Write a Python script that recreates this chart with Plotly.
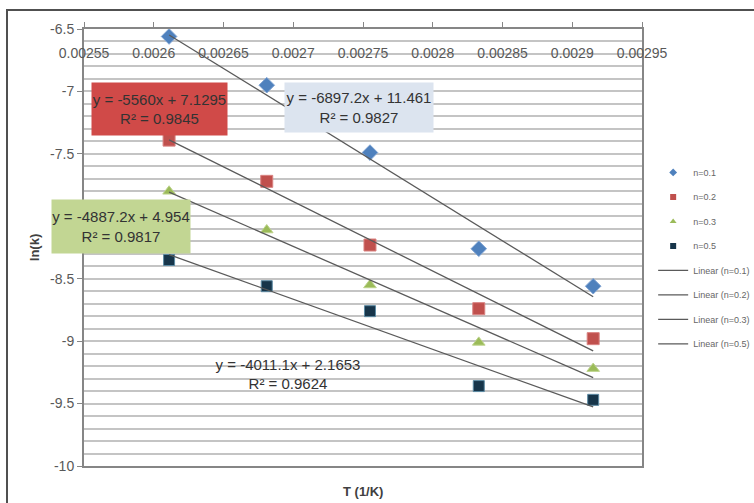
import plotly.graph_objects as go

# ---------------- data ----------------
inv_T = [0.002611, 0.002681, 0.002755, 0.002833, 0.002915]
series_names = ["n=0.1", "n=0.2", "n=0.3", "n=0.5"]
ln_k_n01 = [-6.56, -6.95, -7.49, -8.26, -8.56]
ln_k_n02 = [-7.39, -7.72, -8.23, -8.74, -8.98]
ln_k_n03 = [-7.80, -8.11, -8.55, -9.01, -9.22]
ln_k_n05 = [-8.35, -8.56, -8.76, -9.36, -9.47]
fit_slopes = [-6897.2, -5560.0, -4887.2, -4011.1]
fit_intercepts = [11.461, 7.1295, 4.954, 2.1653]
fit_labels = [
    "y = -6897.2x + 11.461<br>R² = 0.9827",
    "y = -5560x + 7.1295<br>R² = 0.9845",
    "y = -4887.2x + 4.954<br>R² = 0.9817",
    "y = -4011.1x + 2.1653<br>R² = 0.9624",
]
x_ticks = [0.00255, 0.0026, 0.00265, 0.0027, 0.00275, 0.0028, 0.00285, 0.0029, 0.00295]
x_tick_text = ["0.00255", "0.0026", "0.00265", "0.0027", "0.00275", "0.0028", "0.00285", "0.0029", "0.00295"]
y_ticks = [-6.5, -7, -7.5, -8, -8.5, -9, -9.5, -10]
y_tick_text = ["-6.5", "-7", "-7.5", "-8", "-8.5", "-9", "-9.5", "-10"]

series_values = [ln_k_n01, ln_k_n02, ln_k_n03, ln_k_n05]
colors = ["#4F81BD", "#C0504D", "#9BBB59", "#17354A"]
outline = ["#7FA3D2", "#D98280", "#BCD38A", "#5C8AA3"]
symbols = ["diamond", "square", "triangle-up", "square"]
sizes = [12, 12, 11, 11]

fig = go.Figure()

# plotted markers (legend handled by small-marker legend entries)
for name, ys, c, oc, s, sz in zip(series_names, series_values, colors, outline, symbols, sizes):
    fig.add_trace(go.Scatter(
        x=inv_T, y=ys, mode="markers", name=name, showlegend=False,
        marker=dict(symbol=s, size=sz, color=c, line=dict(color=oc, width=1)),
    ))

# trend lines
for name, m, b in zip(series_names, fit_slopes, fit_intercepts):
    xs = [inv_T[0], inv_T[-1]]
    fig.add_trace(go.Scatter(
        x=xs, y=[m * xv + b for xv in xs], mode="lines", showlegend=False,
        name="Linear (" + name + ")", line=dict(color="#5A5A5A", width=1.3),
    ))

# legend entries (on the label axis x2)
for i, (name, c, s) in enumerate(zip(series_names, colors, symbols)):
    fig.add_trace(go.Scatter(
        x=[None], y=[None], mode="markers", name=name, legendgroup="g%d" % i,
        xaxis="x2", marker=dict(symbol=s, size=6, color=c),
    ))
for i, name in enumerate(series_names):
    fig.add_trace(go.Scatter(
        x=[None], y=[None], mode="lines", name="Linear (" + name + ")",
        legendgroup="l%d" % i, xaxis="x2", line=dict(color="#5A5A5A", width=1.3),
    ))

# trendline label boxes
label_pos = [(0.0027471, -7.129), (0.0026041, -7.141), (0.0025765, -8.082), (0.0026962, -9.263)]
label_bg = ["#DCE4EF", "#D04A48", "#C2D693", "rgba(0,0,0,0)"]
label_w = [148, 135, 138, 150]
label_h = [49, 52, 53, 50]
for (lx, ly), txt, bg, w, h in zip(label_pos, fit_labels, label_bg, label_w, label_h):
    fig.add_annotation(
        x=lx, y=ly, xref="x", yref="y", text=txt, showarrow=False,
        bgcolor=bg, width=w, height=h, borderpad=0, align="center",
        font=dict(family="Liberation Sans", size=15, color="#333333"),
    )

# x axis title at bottom
fig.add_annotation(
    x=0.5, y=-0.037, xref="paper", yref="paper", yanchor="top",
    text="<b>T (1/K)</b>", showarrow=False,
    font=dict(family="Liberation Sans", size=13, color="#404040"),
)

# outer chart border
fig.add_shape(type="rect", xref="paper", yref="paper",
              x0=(7 - 84) / 558, x1=1.5, y0=-0.5, y1=(466 - 10) / 437,
              line=dict(color="#505050", width=2), fillcolor="rgba(0,0,0,0)", layer="below")

fig.update_layout(
    width=754, height=503,
    margin=dict(l=84, r=112, t=29, b=37, autoexpand=False),
    paper_bgcolor="white", plot_bgcolor="white",
    font=dict(family="Liberation Sans", color="#595959"),
    showlegend=True,
    legend=dict(x=1.020, xanchor="left", y=0.705, yanchor="top",
                font=dict(size=9, color="#666666"), tracegroupgap=5.5,
                bgcolor="rgba(0,0,0,0)"),
    xaxis=dict(
        range=[0.00255, 0.00295], side="top", tickmode="array",
        tickvals=x_ticks, showticklabels=False, automargin=False,
        ticks="outside", ticklen=5, tickcolor="#868686",
        showline=True, linecolor="#868686", linewidth=2, mirror=True,
        showgrid=False, zeroline=False,
    ),
    xaxis2=dict(
        range=[0.00255, 0.00295], overlaying="x", anchor="free", position=0.967,
        side="bottom", tickmode="array", tickvals=x_ticks, ticktext=x_tick_text,
        ticks="", showline=False, showgrid=False, zeroline=False, automargin=False,
        tickfont=dict(size=14, color="#595959"),
    ),
    yaxis=dict(
        range=[-10, -6.5], tickmode="array", tickvals=y_ticks, ticktext=y_tick_text,
        ticks="outside", ticklen=5, tickcolor="#868686", automargin=False,
        showline=True, linecolor="#868686", linewidth=2, mirror=True,
        showgrid=True, gridcolor="#C4C4C4", gridwidth=1.5, zeroline=False,
        minor=dict(dtick=0.1, tick0=-10, showgrid=True, gridcolor="#C4C4C4", gridwidth=1.5),
        tickfont=dict(size=14, color="#595959"),
        title=dict(text="<b>ln(k)</b>", font=dict(size=13, color="#404040"), standoff=8),
    ),
)

fig.write_html("out.html")
